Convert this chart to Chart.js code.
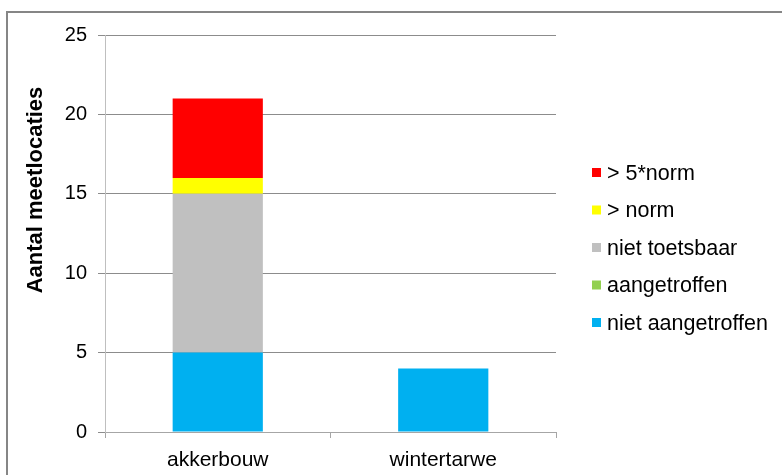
<!DOCTYPE html>
<html>
<head>
<meta charset="utf-8">
<script src="https://cdn.jsdelivr.net/npm/chart.js@4"></script>
<style>
  html, body { margin: 0; padding: 0; background: #fff; }
  #wrap { width: 782px; height: 475px; position: relative; }
</style>
</head>
<body>
<div id="wrap"><canvas id="chart" width="782" height="475"></canvas></div>
<script>
// categories and series (stack order bottom -> top)
const categories = ['akkerbouw', 'wintertarwe'];
const seriesNames = ['niet aangetroffen', 'aangetroffen', 'niet toetsbaar', '> norm', '> 5*norm'];
const nietAangetroffen = [5, 4];
const aangetroffen = [0, 0];
const nietToetsbaar = [10, 0];
const boveNorm = [1, 0];
const bove5Norm = [5, 0];
const yTicks = [0, 5, 10, 15, 20, 25];
const yTitle = 'Aantal meetlocaties';

const colors = ['#00B0F0', '#92D050', '#C0C0C0', '#FFFF00', '#FF0000'];
const values = [nietAangetroffen, aangetroffen, nietToetsbaar, boveNorm, bove5Norm];

const FONT = 'Arial, "Liberation Sans", sans-serif';

// frame, axis title and legend drawn on top
const extras = {
  id: 'extras',
  afterDraw(chart) {
    const ctx = chart.ctx;
    ctx.save();
    // outer frame (top and left only visible)
    ctx.strokeStyle = '#868686';
    ctx.lineWidth = 2;
    ctx.beginPath();
    ctx.moveTo(7, 480);
    ctx.lineTo(7, 12);
    ctx.lineTo(790, 12);
    ctx.stroke();

    // y axis title
    ctx.save();
    ctx.translate(36, 190);
    ctx.rotate(-Math.PI / 2);
    ctx.font = 'bold 22px ' + FONT;
    ctx.fillStyle = '#000';
    ctx.textAlign = 'center';
    ctx.textBaseline = 'middle';
    ctx.fillText(yTitle, 0, 0);
    ctx.restore();

    // legend, reversed order
    ctx.font = '21.5px ' + FONT;
    ctx.textBaseline = 'middle';
    ctx.textAlign = 'left';
    const ds = chart.data.datasets;
    for (let i = 0; i < ds.length; i++) {
      const d = ds[ds.length - 1 - i];
      const y = 173 + i * 37.5;
      ctx.fillStyle = d.backgroundColor;
      ctx.fillRect(592, y - 5, 9, 9);
      ctx.fillStyle = '#000';
      ctx.fillText(d.label, 607, y + 1);
    }
    ctx.restore();
  }
};

new Chart(document.getElementById('chart'), {
  type: 'bar',
  data: {
    labels: categories,
    datasets: seriesNames.map((name, i) => ({
      label: name,
      data: values[i],
      backgroundColor: colors[i],
      borderWidth: 0,
      categoryPercentage: 1,
      barPercentage: 0.4
    }))
  },
  options: {
    responsive: false,
    animation: false,
    layout: { padding: { left: 0, top: 35, right: 226, bottom: 0 } },
    plugins: {
      legend: { display: false },
      tooltip: { enabled: false }
    },
    scales: {
      x: {
        stacked: true,
        grid: {
          offset: true,
          drawOnChartArea: false,
          color: '#A6A6A6',
          tickLength: 6
        },
        border: { color: '#A6A6A6', width: 1 },
        ticks: { color: '#000', font: { family: FONT, size: 21 }, padding: 10 },
        afterFit(s) { s.height = 43; }
      },
      y: {
        stacked: true,
        min: 0,
        max: 25,
        afterBuildTicks(s) { s.ticks = yTicks.map(v => ({ value: v })); },
        grid: { color: '#8C8C8C', tickLength: 7 },
        border: { color: '#BFBFBF', width: 1 },
        ticks: { color: '#000', font: { family: FONT, size: 20 }, padding: 11 },
        afterFit(s) { s.width = 105; }
      }
    }
  },
  plugins: [extras]
});
</script>
</body>
</html>
